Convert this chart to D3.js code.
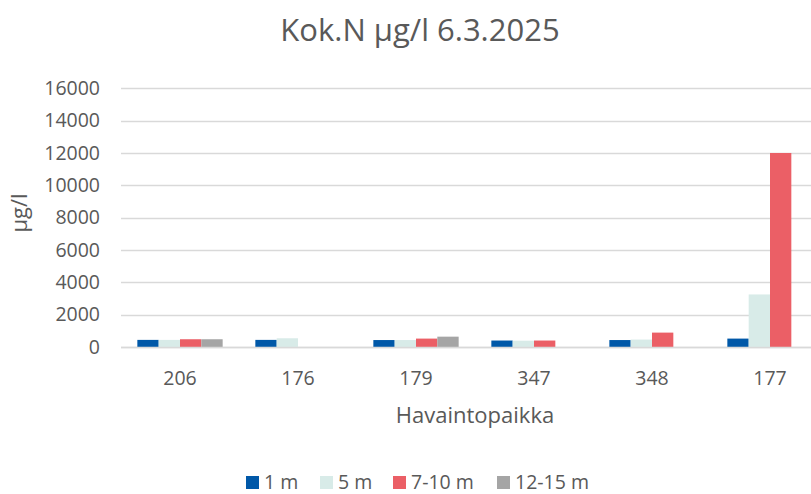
<!DOCTYPE html>
<html>
<head>
<meta charset="utf-8">
<script src="https://cdn.jsdelivr.net/npm/d3@7"></script>
<style>
  html, body { margin: 0; padding: 0; background: #fff; }
  svg { display: block; font-family: "Open Sans", Lato, sans-serif; }
</style>
</head>
<body>
<svg id="chart" width="811" height="494"></svg>
<script>
const categories = ["206", "176", "179", "347", "348", "177"];
const seriesNames = ["1 m", "5 m", "7-10 m", "12-15 m"];
const seriesColors = ["#0058A8", "#D8EBE8", "#EB5F66", "#A5A5A5"];
const s1m    = [440, 440, 430, 400, 430, 520];
const s5m    = [440, 540, 430, 390, 460, 3250];
const s7_10  = [480, null, 520, 400, 890, 12000];
const s12_15 = [480, null, 640, null, null, null];
const yTicks = [0, 2000, 4000, 6000, 8000, 10000, 12000, 14000, 16000];
const title = "Kok.N µg/l 6.3.2025";
const xTitle = "Havaintopaikka";
const yTitle = "µg/l";

const seriesValues = [s1m, s5m, s7_10, s12_15];
const textColor = "#595959";
const svg = d3.select("#chart");

const x0 = d3.scaleBand().domain(categories).range([121, 829])
  .paddingInner(0.277).paddingOuter(0.1385);
const x1 = d3.scaleBand().domain(seriesNames).range([0, x0.bandwidth()]);
const y = d3.scaleLinear().domain([0, 16000]).range([347, 88.3]);

// gridlines
svg.append("g").selectAll("line").data(yTicks).join("line")
  .attr("x1", 121).attr("x2", 829)
  .attr("y1", d => Math.round(y(d)) + 0.5).attr("y2", d => Math.round(y(d)) + 0.5)
  .attr("stroke", "#D9D9D9").attr("stroke-width", 1.3);

// y tick labels
svg.append("g").selectAll("text").data(yTicks).join("text")
  .attr("x", 100).attr("y", d => y(d)).attr("dy", "0.35em")
  .attr("text-anchor", "end").attr("fill", textColor).attr("font-size", 19.5)
  .text(d => d);

// bars
const data = [];
categories.forEach((c, i) => {
  seriesNames.forEach((s, j) => {
    const v = seriesValues[j][i];
    if (v != null) data.push({ c, s, v, color: seriesColors[j] });
  });
});
svg.append("g").selectAll("rect").data(data).join("rect")
  .attr("x", d => x0(d.c) + x1(d.s))
  .attr("width", x1.bandwidth())
  .attr("y", d => y(d.v))
  .attr("height", d => y(0) - y(d.v))
  .attr("fill", d => d.color);

// x axis line
svg.append("line").attr("x1", 121).attr("x2", 829)
  .attr("y1", 347.5).attr("y2", 347.5)
  .attr("stroke", "#D9D9D9").attr("stroke-width", 1.5);

// category labels
svg.append("g").selectAll("text").data(categories).join("text")
  .attr("x", d => x0(d) + x0.bandwidth() / 2).attr("y", 385)
  .attr("text-anchor", "middle").attr("fill", textColor).attr("font-size", 19.5)
  .text(d => d);

// title
svg.append("text").attr("x", 420).attr("y", 41).attr("text-anchor", "middle")
  .attr("fill", textColor).attr("font-size", 31).text(title);

// axis titles
svg.append("text").attr("x", 475).attr("y", 423).attr("text-anchor", "middle")
  .attr("fill", textColor).attr("font-size", 22).text(xTitle);
svg.append("text").attr("transform", "translate(27,213) rotate(-90)")
  .attr("text-anchor", "middle").attr("fill", textColor).attr("font-size", 22).text(yTitle);

// legend
const legendX = [246, 320, 393, 497];
const lg = svg.append("g").selectAll("g").data(seriesNames).join("g")
  .attr("transform", (d, i) => `translate(${legendX[i]},0)`);
lg.append("rect").attr("x", 0).attr("y", 476).attr("width", 13).attr("height", 13)
  .attr("fill", (d, i) => seriesColors[i]);
lg.append("text").attr("x", 18).attr("y", 489).attr("fill", textColor)
  .attr("font-size", 19.5).text(d => d);
</script>
</body>
</html>
